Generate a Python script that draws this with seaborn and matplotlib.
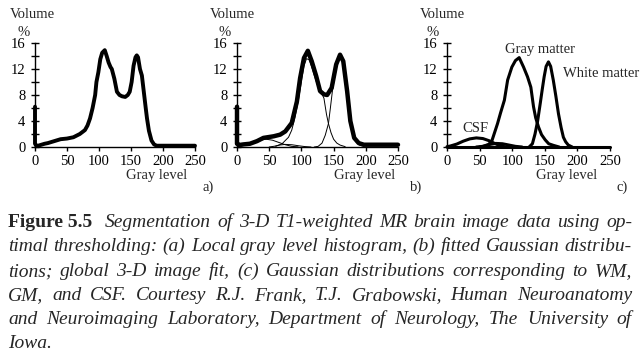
import numpy as np
import pandas as pd
import matplotlib
matplotlib.use('Agg')
import matplotlib.pyplot as plt
from matplotlib.ticker import MultipleLocator
import seaborn as sns

# %% ---- data (gray level vs volume %)
# a) local gray level histogram
hist_a_gray = [0, 0, 2, 5, 10, 15, 20, 30, 40, 50, 60, 70, 78, 82, 86, 90, 94, 96, 99, 102,
               105, 109, 112, 115, 118, 120, 124, 128, 132, 136, 141, 145, 148, 151, 154,
               157, 159, 161, 164, 167, 170, 173, 175, 178, 182, 186, 190, 220, 250]
hist_a_vol = [6.2, 0.5, 0.2, 0.2, 0.35, 0.5, 0.6, 0.9, 1.2, 1.3, 1.5, 2.0, 2.6, 3.3, 4.4, 6.0,
              8.0, 10.0, 11.5, 13.5, 14.5, 14.9, 14.0, 13.0, 12.3, 12.0, 10.5, 8.5, 8.0, 7.8,
              7.7, 8.0, 8.5, 10.0, 12.5, 13.8, 14.1, 13.8, 12.0, 11.0, 8.5, 6.0, 4.4, 2.5,
              1.0, 0.4, 0.2, 0.2, 0.2]

# b) global 3-D image histogram + fitted gaussians
hist_b_gray = [0, 0, 3, 10, 20, 31, 41, 57, 67, 75, 85, 93, 98, 104, 110, 116, 123, 129,
               135, 140, 147, 154, 160, 165, 171, 176, 182, 189, 197, 250]
hist_b_vol = [6.2, 0.5, 0.3, 0.4, 0.5, 0.9, 1.4, 1.65, 1.9, 2.4, 3.7, 7.0, 10.6, 13.7,
              14.8, 13.2, 10.9, 8.6, 8.1, 8.0, 9.1, 12.7, 14.2, 13.2, 8.6, 4.0, 1.4, 0.6,
              0.35, 0.35]
fit_csf_gray = [5, 15, 25, 35, 45, 55, 65, 75, 85, 95]
fit_csf_vol = [0.1, 0.35, 0.75, 1.05, 1.2, 1.05, 0.7, 0.35, 0.1, 0.02]
fit_extra_gray = [50, 58, 66, 75, 85, 95, 105, 115]
fit_extra_vol = [0.0, 0.12, 0.3, 0.4, 0.35, 0.2, 0.07, 0.0]
fit_gm_gray = [60, 70, 80, 85, 90, 95, 100, 104, 108, 112, 116, 120, 125, 130, 135, 139,
               142, 146, 150, 155, 160, 168]
fit_gm_vol = [0.1, 0.5, 1.5, 2.6, 4.5, 7.0, 10.0, 12.5, 13.6, 13.4, 12.3, 11.0, 9.5, 8.6,
              7.5, 5.0, 3.6, 2.2, 1.2, 0.6, 0.3, 0.05]
fit_wm_gray = [120, 126, 132, 137, 142, 145, 148, 152, 156, 160, 164, 168, 172, 176, 180,
               185, 190, 197]
fit_wm_vol = [0.0, 0.1, 0.6, 1.8, 3.6, 6.0, 8.5, 11.0, 13.0, 14.0, 13.5, 10.5, 7.0, 4.0,
              2.0, 0.8, 0.3, 0.1]

# c) gaussian distributions for CSF, GM, WM
c_csf_gray = [0, 5, 15, 25, 35, 45, 55, 65, 72, 80, 88]
c_csf_vol = [0.05, 0.15, 0.45, 0.9, 1.25, 1.4, 1.3, 0.95, 0.6, 0.25, 0.05]
c_extra_gray = [50, 58, 66, 75, 85, 95, 105, 115]
c_extra_vol = [0.0, 0.15, 0.4, 0.55, 0.5, 0.3, 0.1, 0.0]
c_gm_gray = [45, 55, 64, 69, 77.5, 82, 88, 93, 99.5, 105, 110.7, 117.4, 123.5, 128.6, 132.7,
             136, 140.3, 145, 150.6, 156, 163.3, 172]
c_gm_vol = [0.0, 0.1, 0.4, 1.0, 3.6, 5.2, 7.2, 10.3, 12.3, 13.3, 13.75, 12.3, 10.8, 9.2,
            6.2, 4.5, 3.1, 1.9, 1.1, 0.5, 0.25, 0.0]
c_wm_gray = [126, 131, 135, 139, 143, 146, 149, 152, 155.6, 159, 163, 167, 171, 175, 178.5,
             182, 186, 192]
c_wm_vol = [0.0, 0.5, 2.0, 4.0, 6.7, 8.8, 10.8, 12.4, 13.1, 12.4, 10.3, 7.8, 5.1, 3.0, 1.5,
            0.8, 0.3, 0.0]
c_base_gray = [0, 250]
c_base_vol = [0, 0]

y_ticks = [0, 4, 8, 12, 16]
x_ticks = [0, 50, 100, 150, 200, 250]

# %% ---- style
sns.set_style('ticks')
plt.rcParams['font.family'] = ['Liberation Serif', 'DejaVu Serif']
plt.rcParams['font.size'] = 10

W, H = 642, 363
fig = plt.figure(figsize=(W / 100, H / 100), dpi=100)


def px(x, y):
    return x / W, 1 - y / H


def make_ax(left, right, top=43, bottom=147):
    l, b = px(left, bottom)
    r, t = px(right, top)
    ax = fig.add_axes([l, b, r - l, t - b])
    ax.set_xlim(0, 250)
    ax.set_ylim(0, 16)
    ax.set_xticks(x_ticks)
    ax.set_yticks(y_ticks)
    ax.yaxis.set_minor_locator(MultipleLocator(2))
    ax.tick_params(axis='y', which='both', direction='inout', length=6, width=1,
                   pad=4, labelsize=10.5, colors='black')
    ax.tick_params(axis='x', direction='out', length=3, width=1, pad=3,
                   labelsize=10.5, colors='black')
    sns.despine(ax=ax)
    for s in ['left', 'bottom']:
        ax.spines[s].set_color('black')
        ax.spines[s].set_linewidth(1)
    ax.set_xlabel('')
    ax.set_ylabel('')
    ax.set_facecolor('white')
    return ax


def curve(ax, g, v, lw):
    sns.lineplot(x=g, y=v, ax=ax, color='black', lw=lw, sort=False, estimator=None,
                 clip_on=False)


# %% ---- a)
ax1 = make_ax(35, 195)
curve(ax1, hist_a_gray, hist_a_vol, 2.8)

# %% ---- b)
ax2 = make_ax(237, 398)
curve(ax2, hist_b_gray, hist_b_vol, 3.2)
for g, v in [(fit_csf_gray, fit_csf_vol), (fit_extra_gray, fit_extra_vol),
             (fit_gm_gray, fit_gm_vol), (fit_wm_gray, fit_wm_vol)]:
    curve(ax2, g, v, 0.7)

# %% ---- c)
ax3 = make_ax(447, 610)
for g, v in [(c_base_gray, c_base_vol), (c_csf_gray, c_csf_vol), (c_extra_gray, c_extra_vol),
             (c_gm_gray, c_gm_vol), (c_wm_gray, c_wm_vol)]:
    curve(ax3, g, v, 2.2)
ax3.text(143, 15.0, 'Gray matter', ha='center', va='center', fontsize=10.5)
ax3.text(178, 11.3, 'White matter', ha='left', va='center', fontsize=10.5)
ax3.text(43, 2.9, 'CSF', ha='center', va='center', fontsize=10.5)

# %% ---- axis labels
for x_vol, x_pct, x_gl, x_tag, tag in [(10, 24, 187, 208, 'a)'),
                                       (210, 225, 395, 416, 'b)'),
                                       (420, 433, 597, 622, 'c)')]:
    fig.text(*px(x_vol, 15), 'Volume', ha='left', va='center', fontsize=10.5)
    fig.text(*px(x_pct, 32), '%', ha='center', va='center', fontsize=10.5)
    fig.text(*px(x_gl, 176), 'Gray level', ha='right', va='center', fontsize=10.5)
    fig.text(*px(x_tag, 187), tag, ha='center', va='center', fontsize=10.5)

# %% ---- caption, justified between x=8 and x=632
bold = dict(fontweight='bold', fontstyle='normal')
ital = dict(fontstyle='italic')
cap_lines = [
    [('Figure 5.5', bold)] +
    [(w, ital) for w in 'Segmentation of 3-D T1-weighted MR brain image data using op-'.split()],
    [(w, ital) for w in 'timal thresholding: (a) Local gray level histogram, (b) fitted Gaussian distribu-'.split()],
    [(w, ital) for w in 'tions; global 3-D image fit, (c) Gaussian distributions corresponding to WM,'.split()],
    [(w, ital) for w in 'GM, and CSF. Courtesy R.J. Frank, T.J. Grabowski, Human Neuroanatomy'.split()],
    [(w, ital) for w in 'and Neuroimaging Laboratory, Department of Neurology, The University of'.split()],
    [(w, ital) for w in 'Iowa.'.split()],
]
cap_y = [227, 251, 276, 300, 324, 348]
cap_fs = 14

r = fig.canvas.get_renderer()
for i, (words, yb) in enumerate(zip(cap_lines, cap_y)):
    texts = [fig.text(*px(0, yb), w, va='baseline', ha='left', fontsize=cap_fs, **st)
             for w, st in words]
    widths = [t.get_window_extent(r).width for t in texts]
    extra = 6 if i == 0 else 0
    if i < len(cap_lines) - 1:
        gap = (632 - 8 - extra - sum(widths)) / (len(texts) - 1)
    else:
        gap = 4
    x = 8
    for j, (t, w) in enumerate(zip(texts, widths)):
        t.set_x(x / W)
        x += w + gap
        if i == 0 and j == 0:
            x += extra

fig.savefig('out.png', dpi=100, facecolor='white')
